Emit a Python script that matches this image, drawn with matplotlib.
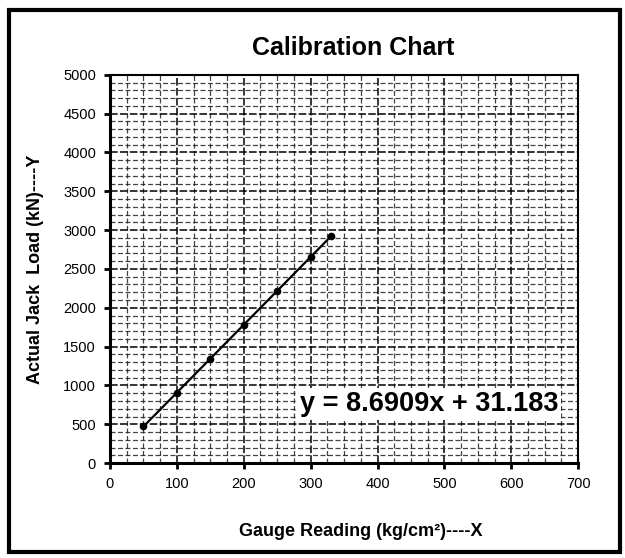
import numpy as np
import matplotlib
matplotlib.use("Agg")
import matplotlib.pyplot as plt
from matplotlib.patches import Rectangle
from matplotlib.ticker import MultipleLocator

plt.rcParams['font.family'] = ['Liberation Sans', 'DejaVu Sans']

# data
gauge = [50, 100, 150, 200, 250, 300, 330]
load = [480, 900, 1345, 1780, 2210, 2660, 2920]
title = "Calibration Chart"
x_label = "Gauge Reading (kg/cm\u00b2)----X"
y_label = "Actual Jack  Load (kN)----Y"
equation = "y = 8.6909x + 31.183"

fig = plt.figure(figsize=(6.25, 5.58), dpi=100)
ax = fig.add_axes([0.176, 0.170, 0.749, 0.696])

# outer frame round the whole chart
fig.patches.append(Rectangle((0.015, 0.011), 0.977, 0.971, transform=fig.transFigure,
                             fill=False, edgecolor='black', linewidth=3))

# trendline through the points
slope, icpt = np.polyfit(gauge, load, 1)
xs = np.array([min(gauge), max(gauge)])
ax.plot(xs, slope * xs + icpt, color='black', linewidth=1.6, zorder=3)
ax.plot(gauge, load, 'o', color='black', markersize=4.5, zorder=4)

ax.set_xlim(0, 700)
ax.set_ylim(0, 5000)
ax.xaxis.set_major_locator(MultipleLocator(100))
ax.yaxis.set_major_locator(MultipleLocator(500))
ax.xaxis.set_minor_locator(MultipleLocator(25))
ax.yaxis.set_minor_locator(MultipleLocator(100))

# dense graph-paper style grid
ax.grid(which='minor', color='#222222', linestyle=(0, (4, 2)), linewidth=0.9, alpha=0.85)
ax.grid(which='major', color='black', linestyle=(0, (5, 1.5)), linewidth=1.1)
ax.set_axisbelow(True)

for side in ['left', 'bottom', 'right', 'top']:
    ax.spines[side].set_linewidth(2.2 if side in ['left', 'bottom'] else 1.5)
ax.tick_params(which='major', direction='out', length=4, width=2, labelsize=10.5, pad=6)
ax.tick_params(which='minor', length=0)

ax.set_title(title, fontsize=18, fontweight='bold', pad=14, x=0.52)
ax.set_xlabel(x_label, fontsize=13, fontweight='bold')
ax.xaxis.set_label_coords(0.535, -0.155)
ax.set_ylabel(y_label, fontsize=13, fontweight='bold', labelpad=14)

ax.text(477, 760, equation, fontsize=19.5, fontweight='bold', ha='center', va='center',
        bbox=dict(facecolor='white', edgecolor='none', pad=2), zorder=5)

fig.savefig("out.png", dpi=100)
